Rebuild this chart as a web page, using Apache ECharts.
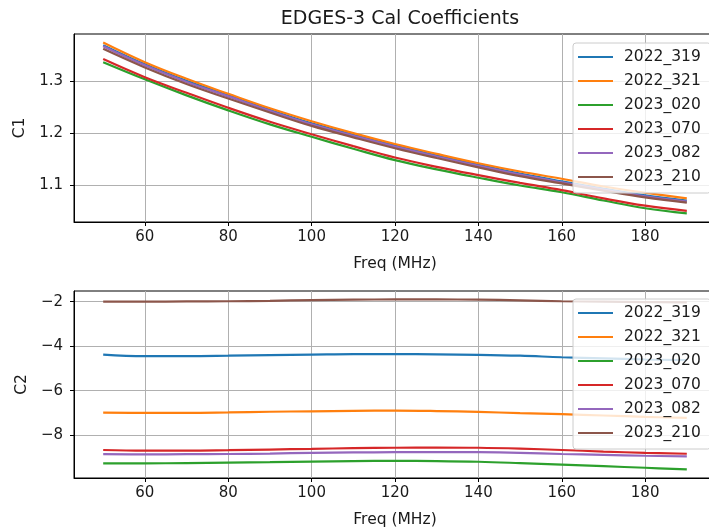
<!DOCTYPE html>
<html>
<head>
<meta charset="utf-8">
<script src="https://cdn.jsdelivr.net/npm/echarts@6/dist/echarts.min.js"></script>
<style>
  html, body { margin: 0; padding: 0; background: #fff; }
  #chart { width: 709px; height: 527px; }
</style>
</head>
<body>
<div id="chart"></div>
<script>
// Frequency samples (MHz)
const freqMHz = [50, 60, 70, 80, 90, 100, 110, 120, 130, 140, 150, 160, 170, 180, 190];

const seriesNames = ['2022_319', '2022_321', '2023_020', '2023_070', '2023_082', '2023_210'];
const seriesColors = ['#1f77b4', '#ff7f0e', '#2ca02c', '#d62728', '#9467bd', '#8c564b'];

// C1 coefficient per calibration
const c1_2022_319 = [1.370, 1.333, 1.301, 1.273, 1.245, 1.219, 1.197, 1.176, 1.157, 1.139, 1.122, 1.107, 1.093, 1.080, 1.070];
const c1_2022_321 = [1.375, 1.337, 1.305, 1.276, 1.248, 1.223, 1.200, 1.179, 1.160, 1.142, 1.126, 1.112, 1.097, 1.085, 1.074];
const c1_2023_020 = [1.337, 1.304, 1.273, 1.244, 1.217, 1.193, 1.170, 1.148, 1.130, 1.114, 1.099, 1.086, 1.070, 1.055, 1.045];
const c1_2023_070 = [1.343, 1.308, 1.278, 1.249, 1.222, 1.198, 1.175, 1.153, 1.135, 1.119, 1.104, 1.090, 1.074, 1.060, 1.050];
const c1_2023_082 = [1.368, 1.331, 1.299, 1.271, 1.243, 1.217, 1.195, 1.174, 1.155, 1.137, 1.120, 1.105, 1.091, 1.078, 1.068];
const c1_2023_210 = [1.363, 1.327, 1.295, 1.267, 1.240, 1.214, 1.192, 1.171, 1.152, 1.134, 1.117, 1.103, 1.089, 1.076, 1.066];

// C2 coefficient per calibration
const c2_2022_319 = [-4.38, -4.45, -4.45, -4.43, -4.40, -4.38, -4.36, -4.36, -4.37, -4.39, -4.43, -4.50, -4.55, -4.60, -4.63];
const c2_2022_321 = [-6.99, -7.00, -7.00, -6.98, -6.95, -6.93, -6.91, -6.90, -6.92, -6.96, -7.01, -7.06, -7.12, -7.18, -7.23];
const c2_2023_020 = [-9.27, -9.27, -9.26, -9.24, -9.22, -9.19, -9.17, -9.16, -9.17, -9.20, -9.26, -9.33, -9.40, -9.47, -9.54];
const c2_2023_070 = [-8.67, -8.70, -8.70, -8.68, -8.65, -8.62, -8.59, -8.57, -8.56, -8.57, -8.61, -8.67, -8.74, -8.80, -8.84];
const c2_2023_082 = [-8.86, -8.87, -8.86, -8.85, -8.83, -8.80, -8.78, -8.77, -8.76, -8.77, -8.80, -8.85, -8.89, -8.93, -8.96];
const c2_2023_210 = [-2.00, -2.00, -1.99, -1.98, -1.96, -1.93, -1.91, -1.90, -1.90, -1.91, -1.94, -1.98, -2.00, -2.02, -2.03];

// Tick labels
const freqTicks = [60, 80, 100, 120, 140, 160, 180];
const c1Ticks = [1.1, 1.2, 1.3];
const c2Ticks = [-8, -6, -4, -2];

const c1Data = [c1_2022_319, c1_2022_321, c1_2023_020, c1_2023_070, c1_2023_082, c1_2023_210];
const c2Data = [c2_2022_319, c2_2022_321, c2_2023_020, c2_2023_070, c2_2023_082, c2_2023_210];

const FONT = '"DejaVu Sans", sans-serif';
const TXT = '#1a1a1a';
const minusFmt = v => String(v).replace('-', '\u2212');

function xAxisFor(gridIndex) {
  return {
    type: 'value', gridIndex, min: 43, max: 197,
    name: 'Freq (MHz)', nameLocation: 'middle', nameGap: 34,
    nameTextStyle: { fontFamily: FONT, fontSize: 15.5, color: TXT },
    axisLine: { show: true, lineStyle: { color: '#000', width: 1 } },
    axisTick: { show: true, length: 4, lineStyle: { color: '#000', width: 1 }, customValues: freqTicks },
    axisLabel: { fontFamily: FONT, fontSize: 15, color: TXT, margin: 8, customValues: freqTicks, formatter: minusFmt },
    splitLine: { show: true, lineStyle: { color: '#b0b0b0', width: 1 } }
  };
}

function yAxisFor(gridIndex, min, max, ticks, name) {
  return {
    type: 'value', gridIndex, min, max,
    name, nameLocation: 'middle', nameGap: 42, nameRotate: 90,
    nameTextStyle: { fontFamily: FONT, fontSize: 15.5, color: TXT },
    axisLine: { show: true, lineStyle: { color: '#000', width: 1 } },
    axisTick: { show: true, length: 4, lineStyle: { color: '#000', width: 1 }, customValues: ticks },
    axisLabel: { fontFamily: FONT, fontSize: 15, color: TXT, margin: 11, customValues: ticks, formatter: minusFmt },
    splitLine: { show: true, lineStyle: { color: '#b0b0b0', width: 1 } }
  };
}

function legendFor(top) {
  return {
    orient: 'vertical', left: 573, top,
    data: seriesNames,
    icon: 'rect', itemWidth: 35, itemHeight: 2, itemGap: 8,
    padding: [6, 10, 8, 5],
    backgroundColor: 'rgba(255,255,255,0.8)',
    borderColor: '#cccccc', borderWidth: 1, borderRadius: 3,
    textStyle: { fontFamily: FONT, fontSize: 15.5, color: TXT, lineHeight: 16, padding: [0, 0, 0, 6] },
    selectedMode: false
  };
}

const series = [];
seriesNames.forEach((name, i) => {
  series.push({
    name, type: 'line', xAxisIndex: 0, yAxisIndex: 0,
    data: freqMHz.map((f, k) => [f, c1Data[i][k]]),
    symbol: 'none', smooth: 0.4, color: seriesColors[i],
    lineStyle: { width: 2.2, color: seriesColors[i] }, animation: false
  });
});
seriesNames.forEach((name, i) => {
  series.push({
    name, type: 'line', xAxisIndex: 1, yAxisIndex: 1,
    data: freqMHz.map((f, k) => [f, c2Data[i][k]]),
    symbol: 'none', smooth: 0.4, color: seriesColors[i],
    lineStyle: { width: 2.2, color: seriesColors[i] }, animation: false
  });
});

const chart = echarts.init(document.getElementById('chart'), null, { renderer: 'canvas' });
chart.setOption({
  animation: false,
  backgroundColor: '#fff',
  title: {
    text: 'EDGES-3 Cal Coefficients', left: 395, top: 5, textAlign: 'center',
    textStyle: { fontFamily: FONT, fontSize: 19, fontWeight: 'normal', color: TXT }
  },
  grid: [
    { left: 74, right: -7, top: 34, bottom: 305, show: true, borderColor: '#000', borderWidth: 1, outerBoundsMode: 'none' },
    { left: 74, right: -7, top: 291, bottom: 49, show: true, borderColor: '#000', borderWidth: 1, outerBoundsMode: 'none' }
  ],
  legend: [legendFor(43), legendFor(299)],
  xAxis: [xAxisFor(0), xAxisFor(1)],
  yAxis: [
    yAxisFor(0, 1.0285, 1.3915, c1Ticks, 'C1'),
    yAxisFor(1, -9.93, -1.52, c2Ticks, 'C2')
  ],
  series
});
</script>
</body>
</html>
